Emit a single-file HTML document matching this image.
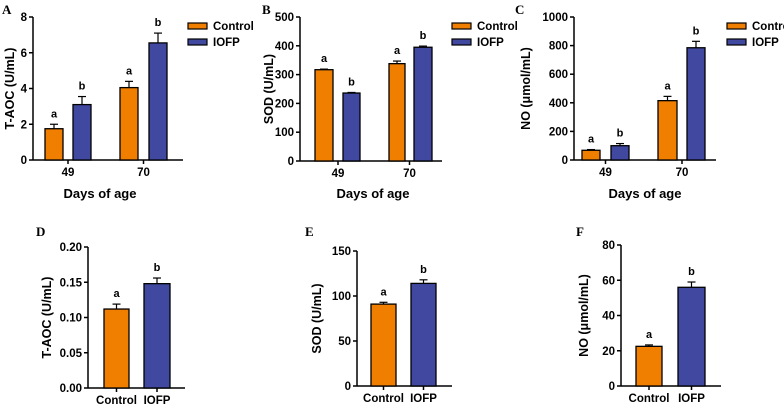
<!DOCTYPE html>
<html><head><meta charset="utf-8"><style>
body{margin:0;background:#fff;width:784px;height:406px;overflow:hidden}
svg{font-family:"Liberation Sans",Arial,sans-serif}
</style></head><body>
<svg id="fig" width="784" height="406"></svg>
<script>
const groupsAC = ["49","70"];
const aControl = [1.75, 4.05], aControlErr = [0.25, 0.35], aIofp = [3.1, 6.55], aIofpErr = [0.45, 0.55];
const bControl = [317, 338], bControlErr = [2, 9], bIofp = [236, 395], bIofpErr = [2, 4];
const cControl = [68, 415], cControlErr = [5, 30], cIofp = [100, 785], cIofpErr = [15, 45];
const aTicks = [0,2,4,6,8], bTicks = [0,100,200,300,400,500], cTicks = [0,200,400,600,800,1000];
const groupsDF = ["Control","IOFP"];
const dValues = [0.112, 0.148], dErr = [0.007, 0.008], dTicks = ["0.00","0.05","0.10","0.15","0.20"];
const eValues = [91, 114], eErr = [2, 4], eTicks = [0,50,100,150];
const fValues = [22.5, 56], fErr = [0.8, 3], fTicks = [0,20,40,60,80];
const sigA = [["a","b"],["a","b"]], sigB = [["a","b"],["a","b"]], sigC = [["a","b"],["a","b"]];
const sigDF = ["a","b"];

const NS="http://www.w3.org/2000/svg";
const svg=document.getElementById('fig');
const OR="#f07f00", BL="#4148a0";
function el(tag,attrs,parent,text){const e=document.createElementNS(NS,tag);for(const k in attrs)e.setAttribute(k,attrs[k]);if(text!==undefined)e.textContent=text;(parent||svg).appendChild(e);return e;}

function panel(p){
  const g=el('g',{});
  
  
  const ymax=+p.ticks[p.ticks.length-1];
  const Y=v=>p.y0-(v/ymax)*(p.y0-p.y1);
  const lt=el('text',{x:p.lx,y:p.ly,'font-family':'"Liberation Serif",serif','font-weight':'bold','font-size':13},g,p.letter);
  
  
  const ya=el('line',{x1:p.ax,x2:p.ax,y1:p.y1,y2:p.y0+0.5,stroke:'#000','stroke-width':1.5},g);
  
  
  const xa=el('line',{x1:p.ax,x2:p.xend,y1:p.y0,y2:p.y0,stroke:'#000','stroke-width':1.5},g);
  
  
  p.ticks.forEach(t=>{
    const y=Y(+t);
    el('line',{x1:p.ax-4,x2:p.ax,y1:y,y2:y,stroke:'#000','stroke-width':1.5},g);
    const tl=el('text',{x:p.ax-6,y:y+4,'text-anchor':'end','font-weight':'bold','font-size':11.5},g,t);
    
    
  });
  const yt=el('text',{x:0,y:0,transform:`translate(${p.tx},${(p.y0+p.y1)/2}) rotate(-90)`,'text-anchor':'middle','font-weight':'bold','font-size':12.5},g,p.ytitle);
  
  
  p.bars.forEach(b=>{
    const top=Y(b.v), et=Y(b.v+b.e), cx=(b.x0+b.x1)/2;
    el('line',{x1:cx,x2:cx,y1:et,y2:top,stroke:'#000','stroke-width':1.2},g);
    el('line',{x1:cx-4,x2:cx+4,y1:et,y2:et,stroke:'#000','stroke-width':1.2},g);
    const r=el('rect',{x:b.x0,y:top,width:b.x1-b.x0,height:p.y0-top,fill:b.c,stroke:'#000','stroke-width':1.3},g);
    
    
    const s=el('text',{x:cx,y:et-7,'text-anchor':'middle','font-weight':'bold','font-size':11},g,b.s);
    
    
  });
  p.xlabels.forEach(l=>{
    el('line',{x1:l.x,x2:l.x,y1:p.y0,y2:p.y0+4,stroke:'#000','stroke-width':1.5},g);
    const t=el('text',{x:l.x,y:p.y0+16,'text-anchor':'middle','font-weight':'bold','font-size':11.5},g,l.t);
    
    
  });
  if(p.xtitle){
    const xt=el('text',{x:p.xtc,y:198,'text-anchor':'middle','font-weight':'bold','font-size':13},g,p.xtitle);
    
    
  }
  if(p.leg){
    [["Control",OR,26],["IOFP",BL,42]].forEach(([n,c,y])=>{
      const lg=el('g',{},g);
      
      
      el('rect',{x:p.leg,y:y-3,width:19,height:6,fill:c,stroke:'#000','stroke-width':1.2},lg);
      el('text',{x:p.leg+25,y:y+4,'font-weight':'bold','font-size':11.5},lg,n);
    });
  }
}
function twoGroup(letter,lx,ax,y0,y1,xend,tx,ticks,ytitle,ctrl,ce,iofp,ie,sig,xpos,leg,xtc){
  const bars=[];
  for(let i=0;i<2;i++){
    const [c0,c1,i0,i1]=xpos[i];
    bars.push({x0:c0,x1:c1,v:ctrl[i],e:ce[i],c:OR,s:sig[i][0]});
    bars.push({x0:i0,x1:i1,v:iofp[i],e:ie[i],c:BL,s:sig[i][1]});
  }
  panel({letter,lx,ly:14,ax,y0,y1,xend,tx,ticks,ytitle,bars,
    xlabels:groupsAC.map((t,i)=>({t,x:(xpos[i][1]+xpos[i][2])/2})),xtitle:"Days of age",xtc,leg});
}
twoGroup("A",2,33,160,17,183,14,aTicks,"T-AOC (U/mL)",aControl,aControlErr,aIofp,aIofpErr,sigA,[[45,63,73,91],[120,138,149,167]],188,100);
twoGroup("B",262,300,161,17,442,273,bTicks,"SOD (U/mL)",bControl,bControlErr,bIofp,bIofpErr,sigB,[[315,333,343,360],[389,405,414,432]],452,373);
twoGroup("C",515,574,160,17,716,530,cTicks,"NO (μmol/mL)",cControl,cControlErr,cIofp,cIofpErr,sigC,[[582,600,611,629],[658,677,687,705]],727,645);
function single(letter,lx,ax,y0,y1,xend,tx,ticks,ytitle,vals,errs,xpos){
  const cols=[OR,BL];
  panel({letter,lx,ly:236,ax,y0,y1,xend,tx,ticks,ytitle,
    bars:vals.map((v,i)=>({x0:xpos[i][0],x1:xpos[i][1],v,e:errs[i],c:cols[i],s:sigDF[i]})),
    xlabels:groupsDF.map((t,i)=>({t,x:(xpos[i][0]+xpos[i][1])/2}))});
}
single("D",36,88,388,247,185,51,dTicks,"T-AOC (U/mL)",dValues,dErr,[[104,129],[144,170]]);
single("E",305,357,386,251,452,321,eTicks,"SOD (U/mL)",eValues,eErr,[[371,396],[411,436]]);
single("F",576,621,386,245,721,588,fTicks,"NO (μmol/mL)",fValues,fErr,[[636,662],[678,705]]);
</script>
</body></html>
